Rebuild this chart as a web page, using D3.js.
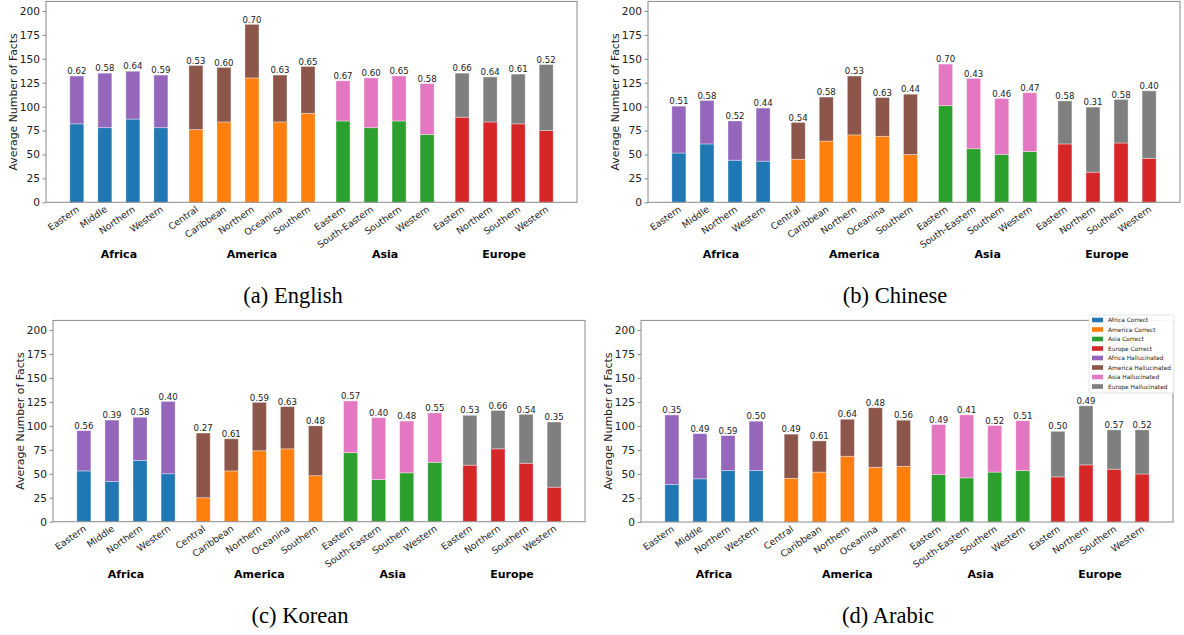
<!DOCTYPE html>
<html>
<head>
<meta charset="utf-8">
<script src="https://cdn.jsdelivr.net/npm/d3@7"></script>
<style>
  html, body { margin: 0; padding: 0; background: #fff; }
  svg { display: block; }
</style>
</head>
<body>
<svg id="chart" width="1184" height="635"></svg>
<script>
// ---------------- DATA ----------------
const regions = ["Africa", "America", "Asia", "Europe"];
const subregions = [
  ["Eastern", "Middle", "Northern", "Western"],
  ["Central", "Caribbean", "Northern", "Oceanina", "Southern"],
  ["Eastern", "South-Eastern", "Southern", "Western"],
  ["Eastern", "Northern", "Southern", "Western"]
];
const languages = ["English", "Chinese", "Korean", "Arabic"];
const captions = ["(a) English", "(b) Chinese", "(c) Korean", "(d) Arabic"];
const yTicks = [0, 25, 50, 75, 100, 125, 150, 175, 200];

const englishCorrect = [82, 78, 87, 78, 76, 84, 130, 84, 93, 85, 78, 85, 71, 89, 84, 82, 75];
const englishTotal   = [132, 135, 137, 133, 143, 141, 186, 133, 142, 127, 130, 132, 124, 135, 131, 134, 144];
const englishLabels  = ["0.62","0.58","0.64","0.59","0.53","0.60","0.70","0.63","0.65","0.67","0.60","0.65","0.58","0.66","0.64","0.61","0.52"];

const chineseCorrect = [51.5, 61, 44, 43, 45, 64, 70.5, 69, 50, 101, 56, 50, 53, 61, 31.5, 62, 46];
const chineseTotal   = [100.5, 106.5, 85, 98.5, 83.5, 110, 132, 109.5, 113, 144.5, 129.5, 108.5, 114.5, 106, 99.5, 107.5, 116.5];
const chineseLabels  = ["0.51","0.58","0.52","0.44","0.54","0.58","0.53","0.63","0.44","0.70","0.43","0.46","0.47","0.58","0.31","0.58","0.40"];

const koreanCorrect = [53, 42, 64, 50, 25, 53, 74, 76, 48, 72, 44, 51, 62, 59, 76, 61, 36];
const koreanTotal   = [95, 106, 109, 125.5, 92.5, 86.5, 124.5, 120, 100, 126, 108.5, 105, 113.5, 111, 116, 112, 104];
const koreanLabels  = ["0.56","0.39","0.58","0.40","0.27","0.61","0.59","0.63","0.48","0.57","0.40","0.48","0.55","0.53","0.66","0.54","0.35"];

const arabicCorrect = [39, 45, 53.5, 53.5, 45.5, 52, 68.5, 57, 58, 49.5, 46, 52, 53.5, 47, 59.5, 55, 50];
const arabicTotal   = [111.5, 92, 90, 105, 91.5, 84.5, 107, 119, 106, 101.5, 111.5, 100.5, 105.5, 94.5, 121, 96, 96];
const arabicLabels  = ["0.35","0.49","0.59","0.50","0.49","0.61","0.64","0.48","0.56","0.49","0.41","0.52","0.51","0.50","0.49","0.57","0.52"];

const correctColors = ["#1f77b4", "#ff7f0e", "#2ca02c", "#d62728"];
const hallColors    = ["#9467bd", "#8c564b", "#e377c2", "#7f7f7f"];

// ---------------- LAYOUT ----------------
const panels = [
  { left: 46,  right: 577,  top: 1.4,   bottom: 202.3, correct: englishCorrect, total: englishTotal, labels: englishLabels },
  { left: 648, right: 1180, top: 1.4,   bottom: 202.3, correct: chineseCorrect, total: chineseTotal, labels: chineseLabels },
  { left: 53,  right: 585,  top: 320.4, bottom: 521.7, correct: koreanCorrect,  total: koreanTotal,  labels: koreanLabels },
  { left: 641, right: 1173, top: 320.4, bottom: 522,   correct: arabicCorrect,  total: arabicTotal,  labels: arabicLabels }
];
const groupGap = 0.25;
const barWidthSlots = 0.5;

// build flat list of bars
const bars = [];
let pos = 0;
subregions.forEach((subs, g) => {
  subs.forEach((s, j) => {
    bars.push({ group: g, name: s, x: pos });
    pos += 1;
  });
  pos += groupGap;
});
const lastX = bars[bars.length - 1].x;

const svg = d3.select("#chart");
const FONT = "'DejaVu Sans', sans-serif";

panels.forEach((p, pi) => {
  const x = d3.scaleLinear().domain([-1.1, lastX + 1.1]).range([p.left, p.right]);
  const y = d3.scaleLinear().domain([0, 210]).range([p.bottom, p.top]);
  const slot = x(1) - x(0);
  const bw = slot * barWidthSlots;
  const gP = svg.append("g");

  // bars
  bars.forEach((b, i) => {
    const c = p.correct[i], t = p.total[i];
    gP.append("rect")
      .attr("x", x(b.x) - bw / 2).attr("width", bw)
      .attr("y", y(c)).attr("height", y(0) - y(c))
      .attr("fill", correctColors[b.group])
      .attr("stroke", "#fff").attr("stroke-opacity", 0.45).attr("stroke-width", 0.8);
    gP.append("rect")
      .attr("x", x(b.x) - bw / 2).attr("width", bw)
      .attr("y", y(t)).attr("height", y(c) - y(t))
      .attr("fill", hallColors[b.group])
      .attr("stroke", "#fff").attr("stroke-opacity", 0.45).attr("stroke-width", 0.8);
    gP.append("text")
      .attr("x", x(b.x)).attr("y", y(t) - 1.8)
      .attr("text-anchor", "middle")
      .attr("font-family", FONT).attr("font-size", 8.6)
      .attr("fill", "#222")
      .text(p.labels[i]);
  });

  // frame
  gP.append("rect")
    .attr("x", p.left).attr("y", p.top)
    .attr("width", p.right - p.left).attr("height", p.bottom - p.top)
    .attr("fill", "none").attr("stroke", "#8a8a8a").attr("stroke-width", 1);

  // y axis
  const yAxis = d3.axisLeft(y).tickValues(yTicks).tickSize(3.5).tickPadding(2.5);
  const ya = gP.append("g").attr("transform", `translate(${p.left},0)`).call(yAxis);
  ya.select(".domain").remove();
  ya.selectAll(".tick line").attr("stroke", "#8a8a8a");
  ya.selectAll(".tick text").attr("font-family", FONT).attr("font-size", 10.6).attr("fill", "#222");

  // y label
  gP.append("text")
    .attr("transform", `translate(${p.left - 29.5},${(p.top + p.bottom) / 2}) rotate(-90)`)
    .attr("text-anchor", "middle")
    .attr("font-family", FONT).attr("font-size", 10.9).attr("fill", "#222")
    .text("Average Number of Facts");

  // x tick labels
  bars.forEach(b => {
    gP.append("text")
      .attr("transform", `translate(${x(b.x) + 3},${p.bottom + 8.5}) rotate(-35)`)
      .attr("text-anchor", "end")
      .attr("font-family", FONT).attr("font-size", 9.3).attr("fill", "#222")
      .text(b.name);
  });

  // group labels
  regions.forEach((r, g) => {
    const gb = bars.filter(b => b.group === g);
    const cx = (x(gb[0].x) + x(gb[gb.length - 1].x)) / 2;
    gP.append("text")
      .attr("x", cx).attr("y", p.bottom + 56)
      .attr("text-anchor", "middle")
      .attr("font-family", FONT).attr("font-size", 11).attr("font-weight", "bold")
      .attr("fill", "#000")
      .text(r);
  });

  // caption
  gP.append("text")
    .attr("x", p.left + 247).attr("y", p.bottom + 101)
    .attr("text-anchor", "middle")
    .attr("font-family", "'Liberation Serif', 'Times New Roman', serif")
    .attr("font-size", 22.5).attr("fill", "#000")
    .text(captions[pi]);

  // legend in last panel
  if (pi === 3) {
    const legendItems = [];
    regions.forEach((r, g) => legendItems.push({ label: r + " Correct", color: correctColors[g] }));
    regions.forEach((r, g) => legendItems.push({ label: r + " Hallucinated", color: hallColors[g] }));
    const lx = 1089, ly = 315, lw = 85, lh = 78;
    const lg = gP.append("g");
    lg.append("rect").attr("x", lx).attr("y", ly).attr("width", lw).attr("height", lh)
      .attr("rx", 1.5).attr("fill", "#fff").attr("fill-opacity", 0.9)
      .attr("stroke", "#ddd").attr("stroke-width", 0.8);
    legendItems.forEach((it, k) => {
      const cy = ly + 5 + k * 9.5;
      lg.append("rect").attr("x", lx + 3).attr("y", cy - 2.3).attr("width", 11).attr("height", 4.6)
        .attr("fill", it.color);
      lg.append("text").attr("x", lx + 19).attr("y", cy + 2.1)
        .attr("font-family", FONT).attr("font-size", 5.9).attr("fill", "#222")
        .text(it.label);
    });
  }
});
</script>
</body>
</html>
